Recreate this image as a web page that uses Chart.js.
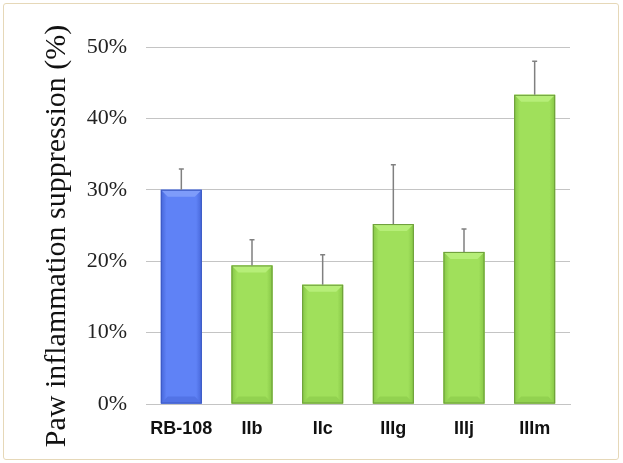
<!DOCTYPE html>
<html>
<head>
<meta charset="utf-8">
<script src="https://cdn.jsdelivr.net/npm/chart.js@4.4.0/dist/chart.umd.min.js"></script>
<style>
  html, body { margin: 0; padding: 0; background: #fff; }
  #wrap { position: relative; width: 623px; height: 463px; }
  #frame {
    position: absolute; left: 3px; top: 3px; width: 614px; height: 455px;
    border: 1.5px solid #e6d8b8; border-radius: 3px; pointer-events: none;
  }
</style>
</head>
<body>
<div id="wrap">
  <canvas id="barChart" width="623" height="463"></canvas>
  <div id="frame"></div>
</div>
<script>
const compounds = ['RB-108', 'IIb', 'IIc', 'IIIg', 'IIIj', 'IIIm'];
const suppression = [30.0, 19.4, 16.7, 25.2, 21.3, 43.3];
const errorUp = [2.9, 3.6, 4.2, 8.3, 3.2, 4.7];
const yTicks = [0, 10, 20, 30, 40, 50];
const yTitle = 'Paw inflammation suppression (%)';

const blue = { mid: '#5f82f6', edge: '#4666d8', line: '#3d5bc4', top: '#7e9cfa', low: '#5273e6' };
const green = { mid: '#a0e05b', edge: '#86c646', line: '#6c9c3a', top: '#b6ee78', low: '#92d250' };

// bevel look for the bars, drawn over the library's own bar elements
const bevelBars = {
    id: 'bevelBars',
    afterDatasetsDraw(chart) {
        const ctx = chart.ctx;
        const meta = chart.getDatasetMeta(0);
        meta.data.forEach(function (bar, i) {
            const c = i === 0 ? blue : green;
            const w = bar.width;
            const left = bar.x - w / 2;
            const right = bar.x + w / 2;
            const top = bar.y;
            const bottom = bar.base;
            const b = 7;
            const g = ctx.createLinearGradient(left, 0, right, 0);
            g.addColorStop(0, c.edge);
            g.addColorStop(0.14, c.mid);
            g.addColorStop(0.86, c.mid);
            g.addColorStop(1, c.edge);
            ctx.save();
            ctx.fillStyle = g;
            ctx.fillRect(left, top, w, bottom - top);
            // top bevel
            ctx.fillStyle = c.top;
            ctx.beginPath();
            ctx.moveTo(left, top);
            ctx.lineTo(right, top);
            ctx.lineTo(right - b, top + b);
            ctx.lineTo(left + b, top + b);
            ctx.closePath();
            ctx.fill();
            // bottom bevel
            ctx.fillStyle = c.low;
            ctx.beginPath();
            ctx.moveTo(left, bottom);
            ctx.lineTo(right, bottom);
            ctx.lineTo(right - b, bottom - b);
            ctx.lineTo(left + b, bottom - b);
            ctx.closePath();
            ctx.fill();
            ctx.strokeStyle = c.line;
            ctx.lineWidth = 1;
            ctx.strokeRect(left + 0.5, top + 0.5, w - 1, bottom - top - 1);
            ctx.restore();
        });
    }
};

// upward error bars
const errorBars = {
    id: 'errorBars',
    afterDatasetsDraw(chart) {
        const ctx = chart.ctx;
        const y = chart.scales.y;
        const meta = chart.getDatasetMeta(0);
        ctx.save();
        ctx.strokeStyle = '#808080';
        ctx.lineWidth = 1.5;
        meta.data.forEach(function (bar, i) {
            const yTop = y.getPixelForValue(suppression[i] + errorUp[i]);
            ctx.beginPath();
            ctx.moveTo(bar.x, bar.y);
            ctx.lineTo(bar.x, yTop);
            ctx.moveTo(bar.x - 2.5, yTop);
            ctx.lineTo(bar.x + 2.5, yTop);
            ctx.stroke();
        });
        ctx.restore();
    }
};

// rotated y title, centred lower than the plot area like the original
const sideTitle = {
    id: 'sideTitle',
    afterDraw(chart) {
        const ctx = chart.ctx;
        ctx.save();
        ctx.translate(57, 236);
        ctx.rotate(-Math.PI / 2);
        ctx.font = '30px "Liberation Serif"';
        ctx.fillStyle = '#111';
        ctx.textAlign = 'center';
        ctx.textBaseline = 'middle';
        ctx.fillText(yTitle, 0, 0);
        ctx.restore();
    }
};

new Chart(document.getElementById('barChart'), {
    type: 'bar',
    data: {
        labels: compounds,
        datasets: [{
            data: suppression,
            backgroundColor: [blue.mid, green.mid, green.mid, green.mid, green.mid, green.mid],
            borderWidth: 0,
            categoryPercentage: 1,
            barPercentage: 0.58
        }]
    },
    options: {
        responsive: false,
        animation: false,
        layout: {
            padding: { left: 40, top: 47, right: 53, bottom: 0 }
        },
        scales: {
            y: {
                min: 0,
                max: 50,
                afterBuildTicks: function (s) { s.ticks = yTicks.map(function (v) { return { value: v }; }); },
                afterFit: function (s) { s.width = 106; },
                border: { display: false },
                grid: { color: '#c4c4c4', lineWidth: 1, drawTicks: false },
                ticks: {
                    padding: 19,
                    color: '#222',
                    font: { family: 'Liberation Serif', size: 22 },
                    callback: function (v) { return v + '%'; }
                }
            },
            x: {
                afterFit: function (s) { s.height = 59; },
                border: { display: true, color: '#c4c4c4' },
                grid: { display: false },
                ticks: {
                    padding: 6,
                    color: '#111',
                    font: { family: 'Liberation Sans', size: 18, weight: 'bold' }
                }
            }
        },
        plugins: {
            legend: { display: false },
            tooltip: { enabled: false }
        }
    },
    plugins: [bevelBars, errorBars, sideTitle]
});
</script>
</body>
</html>
